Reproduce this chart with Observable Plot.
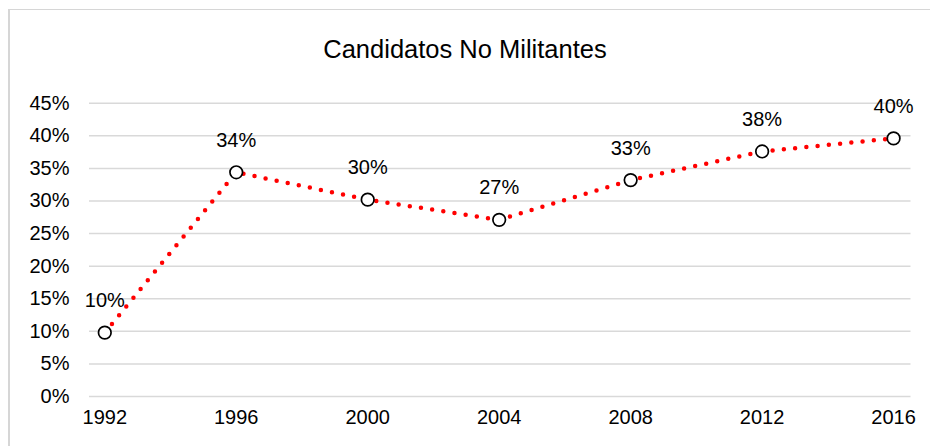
<!DOCTYPE html>
<html>
<head>
<meta charset="utf-8">
<script src="https://cdn.jsdelivr.net/npm/d3@7"></script>
<script src="https://cdn.jsdelivr.net/npm/@observablehq/plot@0.6"></script>
<style>
  html, body { margin: 0; padding: 0; background: #fff; }
  #wrap { position: relative; width: 930px; height: 446px; overflow: hidden; font-family: "Liberation Sans", Arial, sans-serif; }
  #border { position: absolute; left: 8px; top: 9px; right: -10px; bottom: -10px; border-top: 1.5px solid #d6d6d6; border-left: 2px solid #d6d6d6; }
  #title { position: absolute; left: 0; right: 0; top: 34px; text-align: center; font-size: 25.5px; color: #000; line-height: 30px; }
  #chart { position: absolute; left: 0; top: 0; }
</style>
</head>
<body>
<div id="wrap">
  <div id="border"></div>
  <div id="chart"></div>
  <div id="title">Candidatos No Militantes</div>
</div>
<script>
const years = [1992, 1996, 2000, 2004, 2008, 2012, 2016];
const shares = [9.8, 34.4, 30.2, 27.1, 33.2, 37.6, 39.6];
const yTicks = [0, 5, 10, 15, 20, 25, 30, 35, 40, 45];
const data = years.map((y, i) => ({ year: y, value: shares[i] }));

const chart = Plot.plot({
  width: 930,
  height: 446,
  marginLeft: 89,
  marginRight: 19.5,
  marginTop: 102.7,
  marginBottom: 50,
  style: { fontFamily: "Liberation Sans, Arial, sans-serif", fontSize: "20px", color: "#000", background: "transparent" },
  x: { domain: [1991.535, 2016.53], ticks: years, tickFormat: d => String(d) },
  y: { domain: [0, 45], ticks: yTicks, tickFormat: d => d + "%" },
  marks: [
    Plot.gridY(yTicks, { stroke: "#d9d9d9", strokeOpacity: 1, strokeWidth: 1.5 }),
    Plot.axisY(yTicks, { tickSize: 0, tickPadding: 20, tickFormat: d => d + "%", fontSize: 20, fill: "#000", label: null }),
    Plot.axisX(years, { tickSize: 0, tickPadding: 13, tickFormat: d => String(d), fontSize: 20, fill: "#000", label: null }),
    Plot.line(data, { x: "year", y: "value", curve: "linear", stroke: "#ff0000", strokeWidth: 4.5, strokeDasharray: "0 11.3", strokeLinecap: "round" }),
    Plot.dot(data, { x: "year", y: "value", r: 6.3, fill: "white", stroke: "black", strokeWidth: 1.7 }),
    Plot.text(data, { x: "year", y: "value", text: d => Math.round(d.value) + "%", dy: -32, fontSize: 20, fill: "#000" })
  ]
});
document.getElementById("chart").appendChild(chart);
</script>
</body>
</html>
